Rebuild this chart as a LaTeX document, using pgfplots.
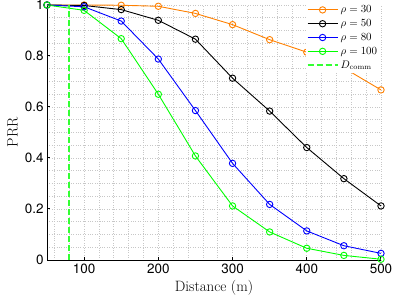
\documentclass[border=0pt]{standalone}
\usepackage{pgfplots}
\pgfplotsset{compat=1.18}
\usepackage{fontspec}
\newfontfamily\helv{TeX Gyre Heros}
\definecolor{myorange}{rgb}{1,0.5,0}
\definecolor{mygreen}{rgb}{0,1,0}
\begin{document}
\begin{tikzpicture}
\begin{axis}[
  set layers,
  scale only axis, width=334bp, height=255bp,
  xmin=50, xmax=500, ymin=0, ymax=1,
  axis x line*=bottom, axis y line*=left,
  axis line style={line width=1bp},
  xtick={100,200,300,400,500},
  ytick={0,0.2,0.4,0.6,0.8,1},
  minor xtick={60,80,120,140,160,180,220,240,260,280,320,340,360,380,420,440,460,480},
  minor ytick={0.05,0.1,0.15,0.25,0.3,0.35,0.45,0.5,0.55,0.65,0.7,0.75,0.85,0.9,0.95},
  grid=both,
  major grid style={dotted, black!22, line width=0.7bp},
  minor grid style={dotted, black!22, line width=0.7bp},
  tick align=inside, major tick length=3bp, minor tick length=0pt,
  tick style={black, line width=1bp},
  ticklabel style={font=\helv\fontsize{13.5}{14}\selectfont},
  /pgf/number format/assume math mode=true,
  xlabel={Distance (m)}, ylabel={PRR},
  label style={font=\fontsize{15}{16}\selectfont},
  clip=false,
  legend style={at={(0.998,1.01)}, anchor=north east, draw=none, fill=white,
    font=\fontsize{10.5}{12}\selectfont, inner sep=1bp, row sep=1.3bp,
    /tikz/on layer=axis grid},
  legend cell align=left,
  legend image code/.code={\draw[mark repeat=2,mark phase=2] plot coordinates {(0bp,0bp) (15bp,0bp) (30bp,0bp)};},
  every axis plot/.append style={line width=0.9bp, mark size=3.2bp, mark options={solid, line width=0.9bp}},
]
\addplot[myorange, mark=o] coordinates {(50,1) (100,1.0) (150,0.999) (200,0.995) (250,0.967) (300,0.923) (350,0.864) (400,0.815) (450,0.753) (500,0.667)};
\addlegendentry{$\rho = 30$}
\addplot[black, mark=o] coordinates {(50,1) (100,0.998) (150,0.982) (200,0.94) (250,0.866) (300,0.713) (350,0.584) (400,0.441) (450,0.319) (500,0.212)};
\addlegendentry{$\rho = 50$}
\addplot[blue, mark=o] coordinates {(50,1) (100,0.993) (150,0.937) (200,0.788) (250,0.586) (300,0.379) (350,0.218) (400,0.114) (450,0.056) (500,0.026)};
\addlegendentry{$\rho = 80$}
\addplot[mygreen, mark=o] coordinates {(50,1) (100,0.979) (150,0.868) (200,0.65) (250,0.408) (300,0.212) (350,0.11) (400,0.046) (450,0.018) (500,0.003)};
\addlegendentry{$\rho = 100$}
\addplot[mygreen!80!white, line width=2bp, dash pattern=on 6bp off 3bp, mark=none] coordinates {(80,0) (80,1)};
\addlegendentry{$D_{\mathrm{comm}}$}
\end{axis}
\pgfresetboundingbox
\useasboundingbox ([xshift=-47bp,yshift=-45bp]current axis.south west) rectangle ([xshift=15bp,yshift=5bp]current axis.north east);
\end{tikzpicture}
\end{document}
